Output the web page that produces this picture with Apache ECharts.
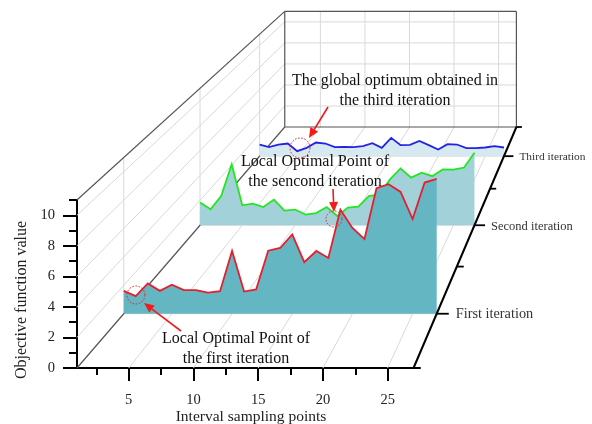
<!DOCTYPE html>
<html><head><meta charset="utf-8">
<style>html,body{margin:0;padding:0;background:#fff}#c{width:592px;height:424px}</style>
<script src="https://cdn.jsdelivr.net/npm/echarts@6/dist/echarts.min.js"></script>
</head><body><div id="c"></div>
<script>
const samplingPoints = [1,2,3,4,5,6,7,8,9,10,11,12,13,14,15,16,17,18,19,20,21,22,23,24,25,26,27];
const firstIteration = [1.61,1.24,2.13,1.61,2.04,1.66,1.66,1.49,1.59,4.42,1.56,1.71,4.44,4.63,5.59,3.63,4.42,3.93,7.32,6.04,5.26,8.84,9.12,8.58,6.67,9.24,9.49];
const secondIteration = [1.82,1.28,2.34,4.88,1.6,1.74,1.46,2.06,1.18,1.26,0.86,0.98,1.46,0.74,1.42,1.5,2.34,2.48,3.68,4.56,3.82,4.22,3.94,4.48,4.46,4.62,5.82];
const thirdIteration = [1.05,0.81,1.05,1.14,0.45,0.75,1.23,1.14,0.81,0.84,0.81,0.9,1.17,0.75,1.65,0.99,1.02,1.38,0.99,0.6,1.08,1.05,0.72,0.72,0.78,0.9,0.78];
const depthLabels = ['First iteration','Second iteration','Third iteration'];
const depthMajor = [0.5,1.5,2.5];
const depthMinor = [1,2,3];
const xMajor = [5,10,15,20,25];
const xMinor = [2.5,7.5,12.5,17.5,22.5];
const yMajor = [0,2,4,6,8,10];
const yMinor = [1,3,5,7,9,11];

const SERIF = '"Liberation Serif","Times New Roman",serif';
const VX = 743.5, VY = -405, DEPTH_K = 0.151, XL = 1, XR = 27, YT = 11, ZB = 3;
function project(p, z){ const s = 1/(1+DEPTH_K*z); return [VX+(p[0]-VX)*s, VY+(p[1]-VY)*s]; }
function scaleAt(z){ return 1/(1+DEPTH_K*z); }
const P = (api,x,y,z)=>project(api.coord([x,y]),z);
const seg = (a,b,color,w)=>({type:'line',shape:{x1:a[0],y1:a[1],x2:b[0],y2:b[1]},style:{stroke:color,lineWidth:w,fill:null}});

function frame(params, api){
  const grey='#d9d9d9', dark='#555555', ch=[];
  yMajor.forEach(v=>{ if(v>0){
    ch.push(seg(P(api,XL,v,0),P(api,XL,v,ZB),grey,1));
    ch.push(seg(P(api,XL,v,ZB),P(api,XR,v,ZB),grey,1));
  }});
  xMajor.forEach(v=>{
    ch.push(seg(P(api,v,0,0),P(api,v,0,ZB),grey,1));
    ch.push(seg(P(api,v,0,ZB),P(api,v,YT,ZB),grey,1));
  });
  depthMajor.forEach(z=>{
    ch.push(seg(P(api,XL,0,z),P(api,XL,YT,z),grey,1));
    ch.push(seg(P(api,XL,0,z),P(api,XR,0,z),grey,1));
  });
  ch.push(seg(P(api,XL,0,0),P(api,XL,0,ZB),dark,1.2));
  ch.push(seg(P(api,XL,YT,0),P(api,XL,YT,ZB),dark,1.2));
  ch.push(seg(P(api,XL,0,ZB),P(api,XR,0,ZB),dark,1.2));
  ch.push(seg(P(api,XL,0,ZB),P(api,XL,YT,ZB),dark,1.2));
  ch.push(seg(P(api,XL,YT,ZB),P(api,XR,YT,ZB),dark,1.2));
  ch.push(seg(P(api,XR,0,ZB),P(api,XR,YT,ZB),dark,1.2));
  return {type:'group',children:ch};
}
function depthAxis(params, api){
  const ch=[seg(P(api,XR,0,0),P(api,XR,0,ZB),'#000',2)];
  depthMajor.forEach((z,i)=>{
    const a=P(api,XR,0,z), s=scaleAt(z), n=13*s;
    ch.push(seg(a,[a[0]+n,a[1]],'#000',1.8));
    ch.push({type:'text',x:a[0]+n+[7,6,6][i],y:a[1]+1,style:{text:depthLabels[i],fill:'#333',font:[14.3,12.5,11.4][i]+'px '+SERIF,textAlign:'left',textVerticalAlign:'middle'}});
  });
  depthMinor.forEach(z=>{
    const a=P(api,XR,0,z), n=8*scaleAt(z);
    ch.push(seg(a,[a[0]+n,a[1]],'#000',1.8));
  });
  return {type:'group',children:ch};
}
function ribbon(z, fill, stroke, values){
  return function(params, api){
    if(params.dataIndex!==0) return null;
    const top=samplingPoints.map((x,i)=>P(api,x,values[i],z));
    const poly=[P(api,samplingPoints[0],0,z),...top,P(api,samplingPoints[samplingPoints.length-1],0,z)];
    return {type:'group',children:[
      {type:'polygon',shape:{points:poly},style:{fill:fill,stroke:null}},
      {type:'polyline',shape:{points:top},style:{stroke:stroke,lineWidth:1.8,fill:null}}
    ]};
  };
}
const rows = v=>samplingPoints.map((x,i)=>[x,v[i]]);
const tickText = {color:'#222',fontFamily:SERIF,fontSize:14.5};
const lineStyle = {color:'#000',width:2};
const chart = echarts.init(document.getElementById('c'),null,{renderer:'canvas'});
const note=(x,y,lines)=>({type:'text',x:x,y:y,z:50,style:{text:lines,fill:'#111',font:'16px '+SERIF,textAlign:'center',textVerticalAlign:'middle',lineHeight:20}});
const circle=(x,y,r)=>({type:'circle',z:50,shape:{cx:x,cy:y,r:r},style:{fill:'none',stroke:'#e8202a',lineWidth:1,lineDash:[1.6,1.6]}});
function arrow(x1,y1,x2,y2){
  const L=Math.hypot(x2-x1,y2-y1),ux=(x2-x1)/L,uy=(y2-y1)/L,h=10,w=4.5;
  const bx=x2-ux*h,by=y2-uy*h;
  return [
    {type:'line',z:50,shape:{x1:x1,y1:y1,x2:bx,y2:by},style:{stroke:'#f01c1c',lineWidth:1.6}},
    {type:'polygon',z:50,shape:{points:[[x2,y2],[bx-uy*w,by+ux*w],[bx+uy*w,by-ux*w]]},style:{fill:'#f01c1c'}}
  ];
}
chart.setOption({
  animation:false,
  backgroundColor:'#fff',
  grid:{left:64,width:356,top:200,height:168,containLabel:false,outerBoundsMode:'none'},
  xAxis:[
    {type:'value',min:0,max:27.5,position:'bottom',splitLine:{show:false},axisLine:{show:true,lineStyle:lineStyle},
     axisTick:{show:true,length:13,lineStyle:{color:'#000',width:2},customValues:xMajor},
     axisLabel:{...tickText,margin:25,customValues:xMajor},
     name:'Interval sampling points',nameLocation:'middle',nameGap:40,
     nameTextStyle:{color:'#222',fontFamily:SERIF,fontSize:15.5,padding:[0,0,0,18]}},
    {type:'value',min:0,max:27.5,position:'bottom',splitLine:{show:false},axisLine:{show:false},
     axisTick:{show:true,length:7,lineStyle:{color:'#000',width:2},customValues:xMinor},
     axisLabel:{show:false}}
  ],
  yAxis:[
    {type:'value',min:0,max:11,position:'left',offset:-13,splitLine:{show:false},axisLine:{show:true,onZero:false,lineStyle:lineStyle},
     axisTick:{show:true,length:14,lineStyle:{color:'#000',width:2},customValues:yMajor},
     axisLabel:{...tickText,margin:22,customValues:yMajor},
     name:'Objective function value',nameLocation:'middle',nameGap:47,
     nameTextStyle:{color:'#222',fontFamily:SERIF,fontSize:16,padding:[0,32,0,0]}},
    {type:'value',min:0,max:11,position:'left',offset:-13,splitLine:{show:false},axisLine:{show:false},
     axisTick:{show:true,length:8,lineStyle:{color:'#000',width:2},customValues:yMinor},
     axisLabel:{show:false}}
  ],
  series:[
    {type:'custom',name:'frame',z:1,coordinateSystem:'cartesian2d',renderItem:frame,data:[[1,0]],silent:true},
    {type:'custom',name:depthLabels[2],z:2,coordinateSystem:'cartesian2d',encode:{x:0,y:1},renderItem:ribbon(2.5,'#d6e9f0','#2222e6',thirdIteration),data:rows(thirdIteration)},
    {type:'custom',name:depthLabels[1],z:3,coordinateSystem:'cartesian2d',encode:{x:0,y:1},renderItem:ribbon(1.5,'#a2d1d9','#22e622',secondIteration),data:rows(secondIteration)},
    {type:'custom',name:depthLabels[0],z:4,coordinateSystem:'cartesian2d',encode:{x:0,y:1},renderItem:ribbon(0.5,'#65b6c3','#e4202e',firstIteration),data:rows(firstIteration)},
    {type:'custom',name:'depth axis',z:5,coordinateSystem:'cartesian2d',renderItem:depthAxis,data:[[1,0]],silent:true}
  ],
  graphic:[
    note(395,90.5,'The global optimum obtained in\nthe third iteration'),
    note(315,171.5,'Local Optimal Point of\nthe sencond iteration'),
    note(236,349,'Local Optimal Point of\nthe first iteration'),
    circle(300,148,10),circle(334,219,8),circle(136,295,9),
    ...arrow(328,107,309,138),...arrow(333,189,334,212),...arrow(181,331,144,303)
  ]
});
</script></body></html>
